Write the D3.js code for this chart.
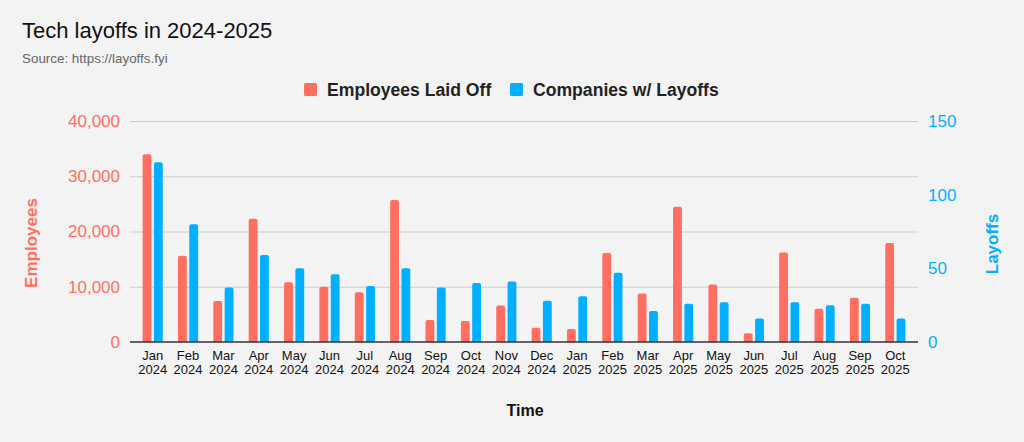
<!DOCTYPE html>
<html>
<head>
<meta charset="utf-8">
<script src="https://cdn.jsdelivr.net/npm/d3@7"></script>
<style>
  body { margin: 0; background: #f3f3f3; }
  svg { display: block; font-family: "Liberation Sans", Arial, sans-serif; }
</style>
</head>
<body>
<svg id="main"></svg>
<script>
// data
let months = ['Jan 2024', 'Feb 2024', 'Mar 2024', 'Apr 2024', 'May 2024', 'Jun 2024', 'Jul 2024', 'Aug 2024',
  'Sep 2024', 'Oct 2024', 'Nov 2024', 'Dec 2024', 'Jan 2025', 'Feb 2025', 'Mar 2025', 'Apr 2025',
  'May 2025', 'Jun 2025', 'Jul 2025', 'Aug 2025', 'Sep 2025', 'Oct 2025']
let employees = [34000, 15600, 7400, 22300, 10800, 10000, 9000, 25700,
  4000, 3800, 6600, 2600, 2350, 16100, 8800, 24500,
  10400, 1600, 16200, 6000, 8000, 17900]
let companies = [122, 80, 37, 59, 50, 46, 38, 50,
  37, 40, 41, 28, 31, 47, 21, 26,
  27, 16, 27, 25, 26, 16]
let leftTicks = [0, 10000, 20000, 30000, 40000]
let rightTicks = [0, 50, 100, 150]

let width = 1024
let height = 442
let red = '#ff6f61'
let blue = '#00b0ff'

let svg = d3.select('#main').attr('width', width).attr('height', height)

let xScale, xInner, yLeft, yRight

const generateScales = () => {
    xScale = d3.scaleBand()
        .domain(months)
        .range([135, 913])
        .paddingInner(0.43)
        .paddingOuter(0.215)
    xInner = d3.scaleBand()
        .domain(['emp', 'comp'])
        .range([0, xScale.bandwidth()])
        .paddingInner(0.22)
    yLeft = d3.scaleLinear().domain([0, 40000]).range([342, 121])
    yRight = d3.scaleLinear().domain([0, 150]).range([342, 121])
}

const drawText = () => {
    svg.append('text').attr('x', 22).attr('y', 38)
        .attr('font-size', 22).attr('fill', '#111')
        .text('Tech layoffs in 2024-2025')
    svg.append('text').attr('x', 22).attr('y', 63)
        .attr('font-size', 13.4).attr('fill', '#666')
        .text('Source: https://layoffs.fyi')

    let legend = [['Employees Laid Off', red, 304], ['Companies w/ Layoffs', blue, 510]]
    legend.forEach(l => {
        svg.append('rect').attr('x', l[2]).attr('y', 83).attr('width', 13).attr('height', 13)
            .attr('rx', 1.5).attr('fill', l[1])
        svg.append('text').attr('x', l[2] + 23).attr('y', 95.5)
            .attr('font-size', 17.6).attr('font-weight', 'bold').attr('fill', '#222')
            .text(l[0])
    })

    svg.append('text')
        .attr('transform', 'translate(37, 243) rotate(-90)')
        .attr('text-anchor', 'middle')
        .attr('font-size', 17).attr('font-weight', 'bold').attr('fill', red)
        .text('Employees')
    svg.append('text')
        .attr('transform', 'translate(998, 244) rotate(-90)')
        .attr('text-anchor', 'middle')
        .attr('font-size', 17).attr('font-weight', 'bold').attr('fill', blue)
        .text('Layoffs')
    svg.append('text')
        .attr('x', 525).attr('y', 416)
        .attr('text-anchor', 'middle')
        .attr('font-size', 16).attr('font-weight', 'bold').attr('fill', '#111')
        .text('Time')
}

const generateAxis = () => {
    // gridlines
    let grid = d3.axisLeft(yLeft).tickValues(leftTicks.slice(1)).tickSize(-(918 - 130)).tickFormat('')
    svg.append('g')
        .attr('transform', 'translate(130, 0)')
        .call(grid)
        .call(g => g.select('.domain').remove())
        .call(g => g.selectAll('line').attr('stroke', '#cccccc').attr('stroke-width', 1.2))

    let leftAxis = d3.axisLeft(yLeft).tickValues(leftTicks).tickSize(0).tickPadding(10)
        .tickFormat(d3.format(','))
    svg.append('g')
        .attr('transform', 'translate(130, 0)')
        .call(leftAxis)
        .call(g => g.select('.domain').remove())
        .call(g => g.selectAll('text').attr('font-size', 17).attr('fill', red)
            .attr('font-family', '"Liberation Sans", Arial, sans-serif'))

    let rightAxis = d3.axisRight(yRight).tickValues(rightTicks).tickSize(0).tickPadding(10)
    svg.append('g')
        .attr('transform', 'translate(918, 0)')
        .call(rightAxis)
        .call(g => g.select('.domain').remove())
        .call(g => g.selectAll('text').attr('font-size', 17).attr('fill', blue)
            .attr('font-family', '"Liberation Sans", Arial, sans-serif'))
}

const plotBars = () => {
    let groups = svg.selectAll('.month')
        .data(months)
        .enter()
        .append('g')
        .attr('class', 'month')
        .attr('transform', d => `translate(${xScale(d)}, 0)`)

    groups.append('path')
        .attr('fill', red)
        .attr('d', (d, i) => barPath(xInner('emp'), yLeft(employees[i]), xInner.bandwidth(), yLeft(0)))
    groups.append('path')
        .attr('fill', blue)
        .attr('d', (d, i) => barPath(xInner('comp'), yRight(companies[i]), xInner.bandwidth(), yRight(0)))

    // two line month labels
    let labels = groups.append('text')
        .attr('text-anchor', 'middle')
        .attr('font-size', 13)
        .attr('fill', '#111')
    labels.append('tspan').attr('x', xScale.bandwidth() / 2).attr('y', 360).text(d => d.split(' ')[0])
    labels.append('tspan').attr('x', xScale.bandwidth() / 2).attr('y', 374).text(d => d.split(' ')[1])

    svg.append('line')
        .attr('x1', 130).attr('x2', 918)
        .attr('y1', yLeft(0)).attr('y2', yLeft(0))
        .attr('stroke', '#333').attr('stroke-width', 1.3)
}

// bar with slightly rounded top corners
const barPath = (x, y, w, base) => {
    let r = Math.min(2, (base - y) / 2)
    return `M${x},${base}V${y + r}Q${x},${y} ${x + r},${y}H${x + w - r}Q${x + w},${y} ${x + w},${y + r}V${base}Z`
}

generateScales()
drawText()
generateAxis()
plotBars()
</script>
</body>
</html>
